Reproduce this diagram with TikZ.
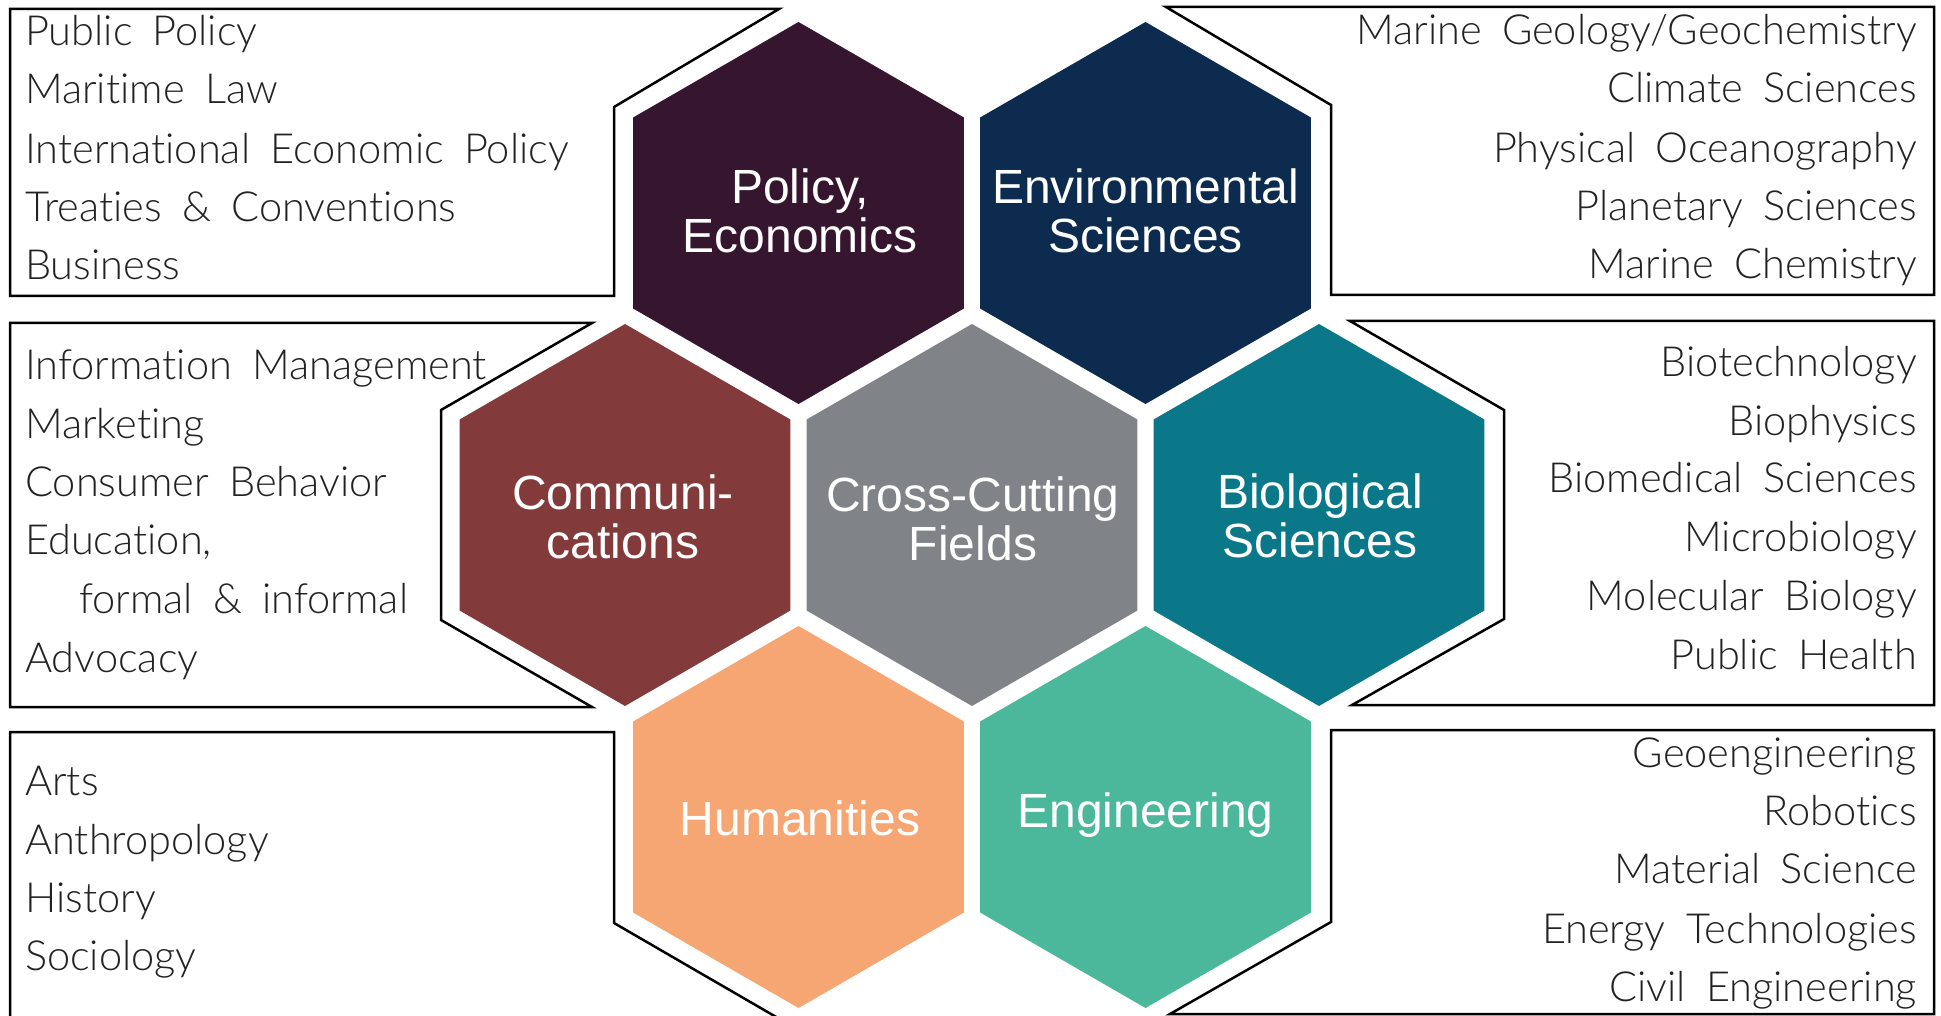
\documentclass[tikz,border=0pt]{standalone}
\usepackage{fontspec}
\setmainfont{Liberation Sans}
\newfontfamily\listfont{Lato Light}[WordSpace=1.8,Ligatures=NoCommon]
\definecolor{policycol}{HTML}{36152E}
\definecolor{envcol}{HTML}{0C2B4E}
\definecolor{commcol}{HTML}{823A3A}
\definecolor{crosscol}{HTML}{808387}
\definecolor{biocol}{HTML}{0A7889}
\definecolor{humcol}{HTML}{F5A673}
\definecolor{engcol}{HTML}{4BB79B}
\definecolor{itemcol}{HTML}{222222}
\begin{document}
\begin{tikzpicture}
  [x=1pt,y=-1pt,
  hexlabel/.style={inner sep=0pt,text=white,align=center,font=\fontsize{48}{49}\selectfont},
  leftitem/.style={anchor=mid west,inner sep=0pt,text=itemcol,font=\listfont\fontsize{41.5}{43}\selectfont},
  rightitem/.style={anchor=mid east,inner sep=0pt,text=itemcol,font=\listfont\fontsize{41.5}{43}\selectfont},
  frame/.style={draw=black,line width=2.5pt,line join=miter}]
  \useasboundingbox (0,0) rectangle (1941,1016);
  \clip (0,0) rectangle (1941,1016);

  \fill[policycol] (798.5,213) +(90:191) -- +(150:191) -- +(210:191) -- +(270:191) -- +(330:191) -- +(30:191) -- cycle;
  \fill[envcol] (1145.5,213) +(90:191) -- +(150:191) -- +(210:191) -- +(270:191) -- +(330:191) -- +(30:191) -- cycle;
  \fill[commcol] (625,515) +(90:191) -- +(150:191) -- +(210:191) -- +(270:191) -- +(330:191) -- +(30:191) -- cycle;
  \fill[crosscol] (972,515) +(90:191) -- +(150:191) -- +(210:191) -- +(270:191) -- +(330:191) -- +(30:191) -- cycle;
  \fill[biocol] (1319,515) +(90:191) -- +(150:191) -- +(210:191) -- +(270:191) -- +(330:191) -- +(30:191) -- cycle;
  \fill[humcol] (798.5,817) +(90:191) -- +(150:191) -- +(210:191) -- +(270:191) -- +(330:191) -- +(30:191) -- cycle;
  \fill[engcol] (1145.5,817) +(90:191) -- +(150:191) -- +(210:191) -- +(270:191) -- +(330:191) -- +(30:191) -- cycle;

  \node[hexlabel] (1) at (800,211) {Policy,\\Economics};
  \node[hexlabel] (2) at (1145.5,211) {Environmental\\Sciences};
  \node[hexlabel] (3) at (623,517) {Communi-\\cations};
  \node[hexlabel] (4) at (973,519) {Cross-Cutting\\Fields};
  \node[hexlabel] (5) at (1320,516) {Biological\\Sciences};
  \node[hexlabel] (6) at (800,818) {Humanities};
  \node[hexlabel] (7) at (1145.5,815) {Engineering};

  \draw[frame] (10,9) -- (779,9) -- (614,107) -- (614,296) -- (10,296) -- cycle;
  \draw[frame] (1166,7) -- (1934,7) -- (1934,295) -- (1331,295) -- (1331,105) -- cycle;
  \draw[frame] (10,323) -- (592,323) -- (441,410) -- (441,620) -- (592,707) -- (10,707) -- cycle;
  \draw[frame] (1350,321) -- (1934,321) -- (1934,705) -- (1352,705) -- (1504,619) -- (1504,410) -- cycle;
  \draw[frame] (10,732) -- (614,732) -- (614,923) -- (790,1025) -- (10,1025) -- cycle;
  \draw[frame] (1331,730) -- (1934,730) -- (1934,1014) -- (1170,1014) -- (1331,922) -- cycle;

  \node[leftitem] (111) at (25,43) {Public Policy};
  \node[leftitem] (112) at (25,101) {Maritime Law};
  \node[leftitem] (113) at (25,161) {International Economic Policy};
  \node[leftitem] (114) at (25,219) {Treaties \& Conventions};
  \node[leftitem] (115) at (25,277) {Business};

  \node[rightitem] (121) at (1917,42) {Marine Geology/Geochemistry};
  \node[rightitem] (122) at (1917,100) {Climate Sciences};
  \node[rightitem] (123) at (1917,160) {Physical Oceanography};
  \node[rightitem] (124) at (1917,218) {Planetary Sciences};
  \node[rightitem] (125) at (1917,276) {Marine Chemistry};

  \node[leftitem] (131) at (25,377) {Information Management};
  \node[leftitem] (132) at (25,436) {Marketing};
  \node[leftitem] (133) at (25,494) {Consumer Behavior};
  \node[leftitem] (134) at (25,552) {Education,};
  \node[leftitem] (135) at (79,611) {formal \& informal};
  \node[leftitem] (136) at (25,670) {Advocacy};

  \node[rightitem] (141) at (1917,374) {Biotechnology};
  \node[rightitem] (142) at (1917,433) {Biophysics};
  \node[rightitem] (143) at (1917,490) {Biomedical Sciences};
  \node[rightitem] (144) at (1917,549) {Microbiology};
  \node[rightitem] (145) at (1917,608) {Molecular Biology};
  \node[rightitem] (146) at (1917,667) {Public Health};

  \node[leftitem] (151) at (25,793) {Arts};
  \node[leftitem] (152) at (25,852) {Anthropology};
  \node[leftitem] (153) at (25,910) {History};
  \node[leftitem] (154) at (25,968) {Sociology};

  \node[rightitem] (161) at (1917,765) {Geoengineering};
  \node[rightitem] (162) at (1917,823) {Robotics};
  \node[rightitem] (163) at (1917,881) {Material Science};
  \node[rightitem] (164) at (1917,941) {Energy Technologies};
  \node[rightitem] (165) at (1917,999) {Civil Engineering};
\end{tikzpicture}
\end{document}
